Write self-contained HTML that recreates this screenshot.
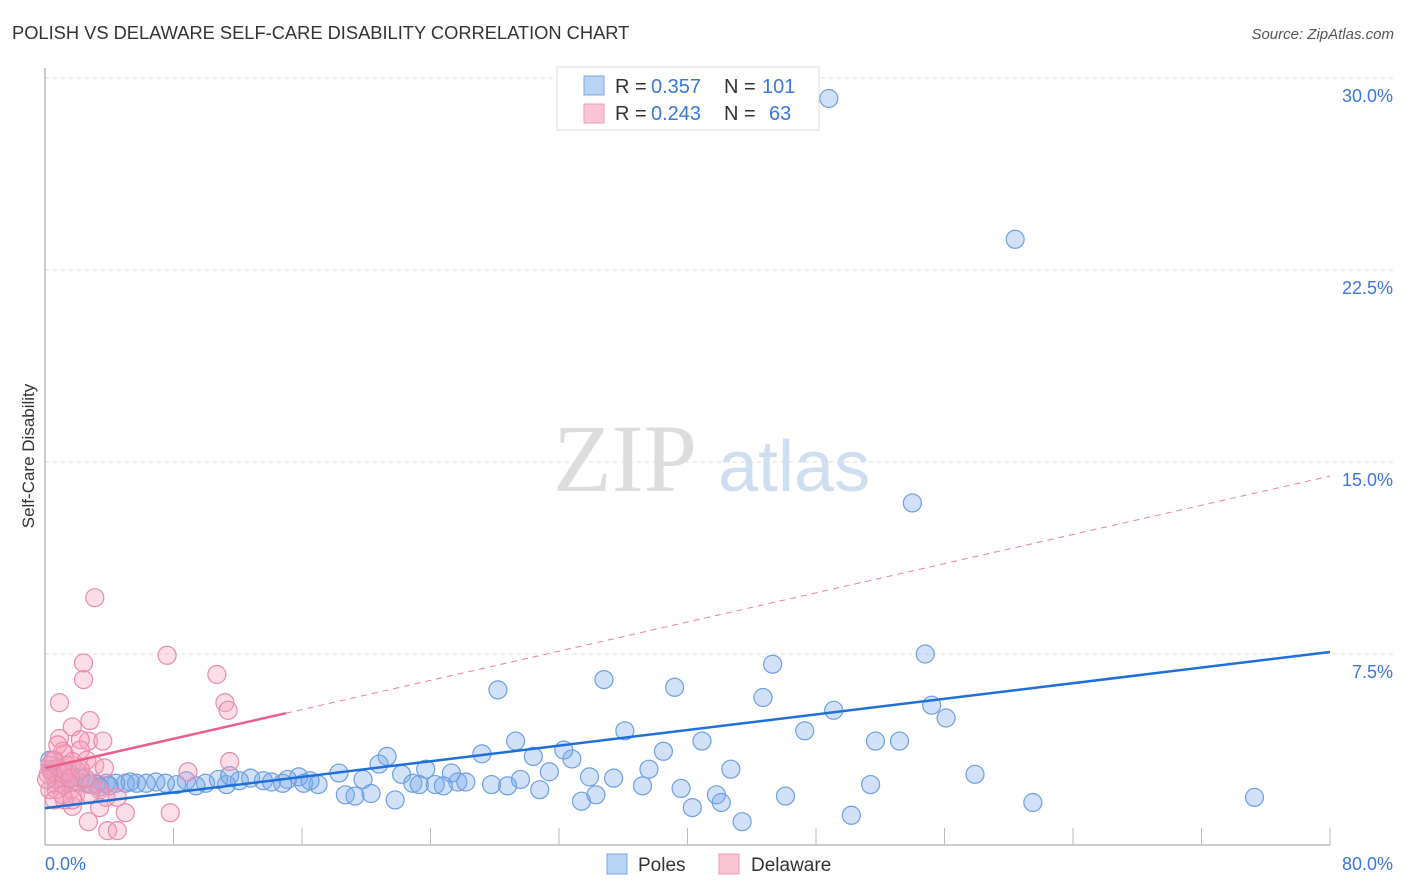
<!DOCTYPE html>
<html><head><meta charset="utf-8"><style>
body{margin:0;background:#fff;font-family:"Liberation Sans",sans-serif;}
</style></head><body>
<svg id="c" width="1406" height="892" xmlns="http://www.w3.org/2000/svg" style="display:block">
<text x="12" y="39" font-size="18.3" fill="#333">POLISH VS DELAWARE SELF-CARE DISABILITY CORRELATION CHART</text>
<text x="1394" y="39" font-size="15" fill="#555" font-style="italic" text-anchor="end">Source: ZipAtlas.com</text>
<text x="553" y="491" font-size="96" fill="#ddd" font-family="Liberation Serif,serif">ZIP</text>
<text x="718" y="491" font-size="72" fill="#cfdff2">atlas</text>
<text transform="translate(34,456) rotate(-90)" font-size="17" fill="#333" text-anchor="middle">Self-Care Disability</text>
<g id="grid"></g><g id="marks"></g>
<g>
<rect x="557" y="67" width="262" height="63" fill="#fff" stroke="#ddd"/>
<rect x="584" y="76" width="20" height="19" fill="#b9d3f3" stroke="#7aa9e5"/>
<rect x="584" y="104" width="20" height="19" fill="#f9c5d5" stroke="#ee9cb7"/>
<text x="615" y="93" font-size="20" fill="#333">R =</text>
<text x="651" y="93" font-size="20" fill="#3a78d6">0.357</text>
<text x="724" y="93" font-size="20" fill="#333">N =</text>
<text x="762" y="93" font-size="20" fill="#3a78d6">101</text>
<text x="615" y="120" font-size="20" fill="#333">R =</text>
<text x="651" y="120" font-size="20" fill="#3a78d6">0.243</text>
<text x="724" y="120" font-size="20" fill="#333">N =</text>
<text x="769" y="120" font-size="20" fill="#3a78d6">63</text>
</g>
<g>
<rect x="607" y="854" width="20" height="20" fill="#b9d3f3" stroke="#7aa9e5"/>
<text x="638" y="871" font-size="19" fill="#333">Poles</text>
<rect x="719" y="854" width="20" height="20" fill="#f9c5d5" stroke="#ee9cb7"/>
<text x="751" y="871" font-size="19" fill="#333">Delaware</text>
</g>
</svg>
<script>
const yTicks=[7.5,15,22.5,30];
const xTickLabels=["0.0%","80.0%"];
const polesX=[48.8,60.4,54.0,54.8,45.3,34.8,39.2,28.2,44.7,55.2,49.1,56.1,36.1,47.3,51.7,53.2,29.3,40.9,27.2,21.3,38.5,30.4,32.8,32.3,20.8,37.6,42.7,31.4,57.9,22.2,23.7,25.3,33.9,35.4,18.3,19.8,29.6,27.8,25.7,26.2,24.3,22.9,23.3,24.8,37.2,39.6,51.4,30.8,41.8,28.8,46.1,34.3,75.3,61.5,33.4,42.1,21.8,18.7,19.3,20.3,40.3,50.2,43.4,16.1,17.0,15.1,13.6,14.1,12.8,12.1,11.3,10.8,10.0,9.4,8.8,8.2,7.5,6.9,6.3,5.7,5.0,4.4,3.8,3.2,2.6,1.9,1.3,0.7,0.3,0.4,0.9,1.6,2.2,2.8,3.4,4.0,11.5,15.8,16.5,14.8,5.3];
const polesY=[29.2,23.7,13.4,7.5,7.1,6.5,6.2,6.1,5.8,5.5,5.3,5.0,4.5,4.5,4.1,4.1,4.1,4.1,3.6,3.5,3.7,3.5,3.4,3.75,3.2,3.0,3.0,2.9,2.8,2.8,3.0,2.85,2.7,2.65,2.85,2.6,2.6,2.4,2.5,2.5,2.4,2.45,2.4,2.35,2.35,2.25,2.4,2.2,2.0,2.35,1.95,2.0,1.9,1.7,1.75,1.7,1.8,2.0,1.95,2.05,1.5,1.2,0.95,2.45,2.4,2.6,2.55,2.5,2.65,2.55,2.4,2.6,2.45,2.35,2.55,2.4,2.45,2.5,2.45,2.45,2.45,2.45,2.45,2.4,2.45,2.55,2.55,2.6,3.35,2.9,3.0,2.8,2.65,2.4,2.3,2.35,2.75,2.7,2.55,2.45,2.5];
const delX=[3.1,7.6,2.4,2.4,10.7,0.9,11.2,11.4,2.8,1.7,2.7,2.2,3.6,0.9,1.1,1.2,2.2,1.7,2.6,3.1,3.7,0.6,0.3,0.6,0.9,1.2,1.6,1.9,2.9,3.4,3.8,4.5,11.5,8.9,7.8,3.9,4.5,5.0,2.7,1.7,1.2,3.4,0.3,0.4,0.8,1.1,1.9,1.4,0.2,0.7,2.1,2.5,1.3,0.7,0.5,1.1,1.6,2.2,0.8,2.8,0.1,0.6,1.7];
const delY=[9.7,7.45,7.15,6.5,6.7,5.6,5.6,5.3,4.9,4.65,4.1,4.15,4.1,4.2,3.7,3.6,3.75,3.3,3.35,3.15,3.05,3.35,3.15,2.8,2.6,2.4,2.2,2.0,2.4,2.2,1.9,1.9,3.3,2.9,1.3,0.6,0.6,1.3,0.95,1.55,1.8,1.5,2.2,3.0,3.05,2.8,3.0,3.15,2.8,2.4,2.5,2.65,2.9,2.2,3.35,2.0,2.65,3.0,3.95,2.0,2.6,1.8,1.8];
const polesTrend=[1.48,7.58];
const delTrend=[3.05,14.45];const delSolidEnd=15;
const X0=45,X1=1330,Y0=846,PY=192/7.5;
const sx=v=>X0+(v/80)*(X1-X0), sy=v=>Y0-v*PY;
const NS="http://www.w3.org/2000/svg";
function mk(t,a,p){const e=document.createElementNS(NS,t);for(const k in a)e.setAttribute(k,a[k]);p.appendChild(e);return e;}
const g=document.getElementById('grid'),m=document.getElementById('marks');
yTicks.forEach(t=>{
 const l=mk('line',{x1:X0,x2:1394,y1:sy(t),y2:sy(t),stroke:'#ddd','stroke-dasharray':'4,4'},g);
 
 
 const tx=mk('text',{x:1393,y:sy(t)+24,'font-size':18,fill:'#3a78d6','text-anchor':'end'},g);
 tx.textContent=t.toFixed(1)+'%';
 
 
});
const ax=mk('line',{x1:X0,x2:X1,y1:845,y2:845,stroke:'#bbb','stroke-width':1.5},g);


const ay=mk('line',{x1:X0,x2:X0,y1:68,y2:845,stroke:'#bbb','stroke-width':1.5},g);


for(let i=1;i<=10;i++){const tk=mk('line',{x1:sx(i*8),x2:sx(i*8),y1:828,y2:845,stroke:'#bbb'},g);
 
 }
const xl=mk('text',{x:45,y:870,'font-size':18,fill:'#3a78d6'},g);xl.textContent=xTickLabels[0];


const xr=mk('text',{x:1393,y:870,'font-size':18,fill:'#3a78d6','text-anchor':'end'},g);xr.textContent=xTickLabels[1];


polesX.forEach((x,i)=>{const c=mk('circle',{cx:sx(x),cy:sy(polesY[i]),r:9,fill:'rgba(120,170,235,0.35)',stroke:'#6f9fe0','stroke-width':1.2},m);
 
 });
delX.forEach((x,i)=>{const c=mk('circle',{cx:sx(x),cy:sy(delY[i]),r:9,fill:'rgba(245,160,190,0.35)',stroke:'#e98bab','stroke-width':1.2},m);
 
 });
const dy=x=>delTrend[0]+(delTrend[1]-delTrend[0])*x/80;
const d1=mk('line',{x1:sx(0),y1:sy(dy(0)),x2:sx(delSolidEnd),y2:sy(dy(delSolidEnd)),stroke:'#e8608a','stroke-width':2.5},m);


const d2=mk('line',{x1:sx(delSolidEnd),y1:sy(dy(delSolidEnd)),x2:sx(80),y2:sy(dy(80)),stroke:'#e8809f','stroke-width':1,'stroke-dasharray':'6,5'},m);


const p1=mk('line',{x1:sx(0),y1:sy(polesTrend[0]),x2:sx(80),y2:sy(polesTrend[1]),stroke:'#1f6fd8','stroke-width':2.5},m);


</script>
</body></html>
